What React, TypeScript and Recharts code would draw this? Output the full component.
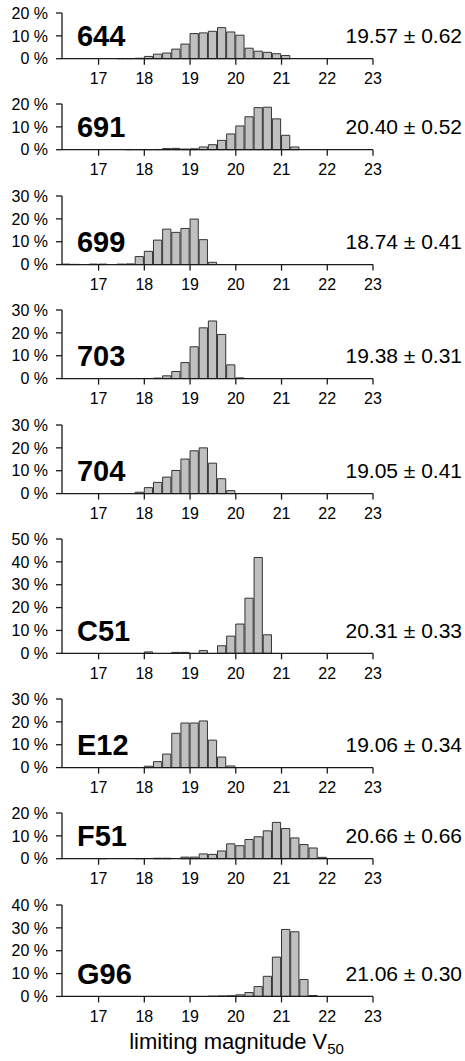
import { BarChart, Bar, XAxis, YAxis, ReferenceLine } from "recharts";

// histogram bins, 0.2 mag wide (centres)
const binCenters = [
    16.3, 16.5, 16.7, 16.9, 17.1, 17.3, 17.5, 17.7, 17.9, 18.1, 18.3, 18.5, 18.7, 18.9, 19.1,
    19.3, 19.5, 19.7, 19.9, 20.1, 20.3, 20.5, 20.7, 20.9, 21.1, 21.3, 21.5, 21.7, 21.9,
];
const xTicks = [17, 18, 19, 20, 21, 22, 23];

// share of nights per bin, in %
const obs644 = [0, 0, 0, 0, 0, 0, 0.1, 0.1, 0.2, 1.0, 2.0, 2.5, 4.2, 6.4, 11.0, 11.3, 12.0, 13.6, 11.7, 10.3, 4.6, 3.3, 2.8, 2.2, 1.4, 0, 0, 0, 0];
const obs691 = [0, 0, 0, 0, 0, 0, 0, 0.1, 0.1, 0.1, 0.1, 0.5, 0.6, 0.3, 0.4, 1.2, 2.2, 4.1, 6.9, 10.4, 14.4, 18.4, 18.6, 13.5, 6.3, 1.2, 0, 0, 0];
const obs699 = [0.2, 0.1, 0, 0.2, 0.2, 0, 0.2, 0.3, 3.5, 5.8, 10.7, 15.5, 14.1, 15.8, 19.9, 10.9, 1.0, 0, 0, 0, 0, 0, 0, 0, 0, 0, 0, 0, 0];
const obs703 = [0, 0, 0, 0, 0, 0, 0, 0, 0, 0, 0.2, 1.2, 3.1, 7.0, 13.9, 22.2, 25.2, 19.3, 6.0, 0.3, 0, 0, 0, 0, 0, 0, 0, 0, 0];
const obs704 = [0, 0, 0, 0, 0, 0, 0, 0, 0.6, 2.6, 4.9, 7.2, 10.1, 15.1, 18.7, 20.0, 13.3, 6.5, 1.3, 0, 0, 0, 0, 0, 0, 0, 0, 0, 0];
const obsC51 = [0, 0, 0, 0, 0, 0, 0, 0, 0, 0.6, 0, 0, 0.4, 0.4, 0, 1.2, 0, 3.3, 7.5, 12.8, 24.1, 41.9, 8.1, 0, 0, 0, 0, 0, 0];
const obsE12 = [0, 0, 0, 0, 0, 0, 0, 0, 0, 0.6, 2.6, 5.9, 15.0, 19.5, 19.5, 20.4, 12.0, 4.6, 0.7, 0, 0, 0, 0, 0, 0, 0, 0, 0, 0];
const obsF51 = [0, 0, 0, 0, 0.1, 0, 0, 0, 0.1, 0, 0.2, 0.2, 0, 0.7, 0.7, 2.1, 1.9, 3.4, 6.5, 5.7, 8.4, 9.6, 12.2, 15.9, 13.2, 9.1, 6.2, 4.7, 0.6];
const obsG96 = [0, 0, 0, 0, 0, 0, 0, 0, 0, 0, 0, 0, 0, 0, 0, 0, 0.1, 0.2, 0.3, 0.7, 1.7, 4.3, 8.8, 17.2, 29.3, 28.3, 7.4, 0.4, 0];

const stationCodes = ["644", "691", "699", "703", "704", "C51", "E12", "F51", "G96"];
const meanLabels = [
    "19.57 ± 0.62", "20.40 ± 0.52", "18.74 ± 0.41", "19.38 ± 0.31", "19.05 ± 0.41",
    "20.31 ± 0.33", "19.06 ± 0.34", "20.66 ± 0.66", "21.06 ± 0.30",
];
const yTickSets = [
    [0, 10, 20], [0, 10, 20], [0, 10, 20, 30], [0, 10, 20, 30], [0, 10, 20, 30],
    [0, 10, 20, 30, 40, 50], [0, 10, 20, 30], [0, 10, 20], [0, 10, 20, 30, 40],
];
const seriesList = [obs644, obs691, obs699, obs703, obs704, obsC51, obsE12, obsF51, obsG96];

const FONT = "'Liberation Sans', Arial, Helvetica, sans-serif";
const WIDTH = 465;
const AXIS_X = 62;
const RIGHT = 92;
const PX_PER_PCT = 2.286;
const TOP = 12;
const GAP = 45.75;
const X_AXIS_H = 30;
const BAR_PX = (0.2 * (WIDTH - AXIS_X - RIGHT)) / 6.8;
const INK = "#1a1a1a";

function PanelLabels(props: any) {
    const { viewBox, code, mean } = props;
    const y = viewBox ? viewBox.y : 0;
    return (
        <g style={{ fontFamily: FONT }}>
            <text x={77} y={y} dy="0.36em" fontSize={29} fontWeight="bold" fill="#000">
                {code}
            </text>
            <text x={462} y={y} dy="0.36em" fontSize={21} textAnchor="end" fill="#000">
                {mean}
            </text>
        </g>
    );
}

function AxisTitle(props: any) {
    const { viewBox } = props;
    if (!viewBox) return null;
    const cx = viewBox.x + viewBox.width / 2 + 19;
    const cy = viewBox.y + 53;
    return (
        <text x={cx} y={cy} textAnchor="middle" fontSize={22} fill="#000" style={{ fontFamily: FONT }}>
            <tspan>limiting magnitude V</tspan>
            <tspan dy={5} fontSize={15}>50</tspan>
        </text>
    );
}

function Panel({ index, last }: { index: number; last: boolean }) {
    const yTicks = yTickSets[index];
    const yMax = yTicks[yTicks.length - 1];
    const plotH = yMax * PX_PER_PCT;
    const bottom = last ? 66 : GAP - TOP;
    const height = TOP + plotH + bottom;
    const values = seriesList[index];
    const data = binCenters.map((x, i) => ({ x, pct: values[i] }));

    const tickStyle = { fill: "#000", fontSize: 16, fontFamily: FONT };
    const lineStyle = { stroke: INK, strokeWidth: 1.3 };

    return (
        <BarChart
            width={WIDTH}
            height={height}
            data={data}
            margin={{ top: TOP, right: RIGHT, bottom: bottom - X_AXIS_H, left: 0 }}
        >
            <XAxis
                type="number"
                dataKey="x"
                domain={[16.2, 23]}
                ticks={xTicks}
                interval={0}
                allowDataOverflow
                height={X_AXIS_H}
                tickSize={6}
                tickMargin={8}
                tick={tickStyle}
                axisLine={lineStyle}
                tickLine={lineStyle}
                label={last ? <AxisTitle /> : undefined}
            />
            <YAxis
                type="number"
                domain={[0, yMax]}
                ticks={yTicks}
                interval={0}
                width={AXIS_X}
                tickSize={6}
                tickMargin={8}
                tick={tickStyle}
                axisLine={lineStyle}
                tickLine={lineStyle}
                tickFormatter={(v: number) => `${v} %`}
            />
            <Bar
                dataKey="pct"
                fill="#c0c0c0"
                stroke="#333"
                strokeWidth={1}
                barSize={BAR_PX}
                isAnimationActive={false}
            />
            <ReferenceLine
                y={10}
                stroke="none"
                label={<PanelLabels code={stationCodes[index]} mean={meanLabels[index]} />}
            />
        </BarChart>
    );
}

export default function App() {
    return (
        <div
            style={{
                position: "absolute",
                left: 0,
                top: 1,
                width: WIDTH,
                background: "#fff",
                fontFamily: FONT,
            }}
        >
            {stationCodes.map((code, i) => (
                <Panel key={code} index={i} last={i === stationCodes.length - 1} />
            ))}
        </div>
    );
}
